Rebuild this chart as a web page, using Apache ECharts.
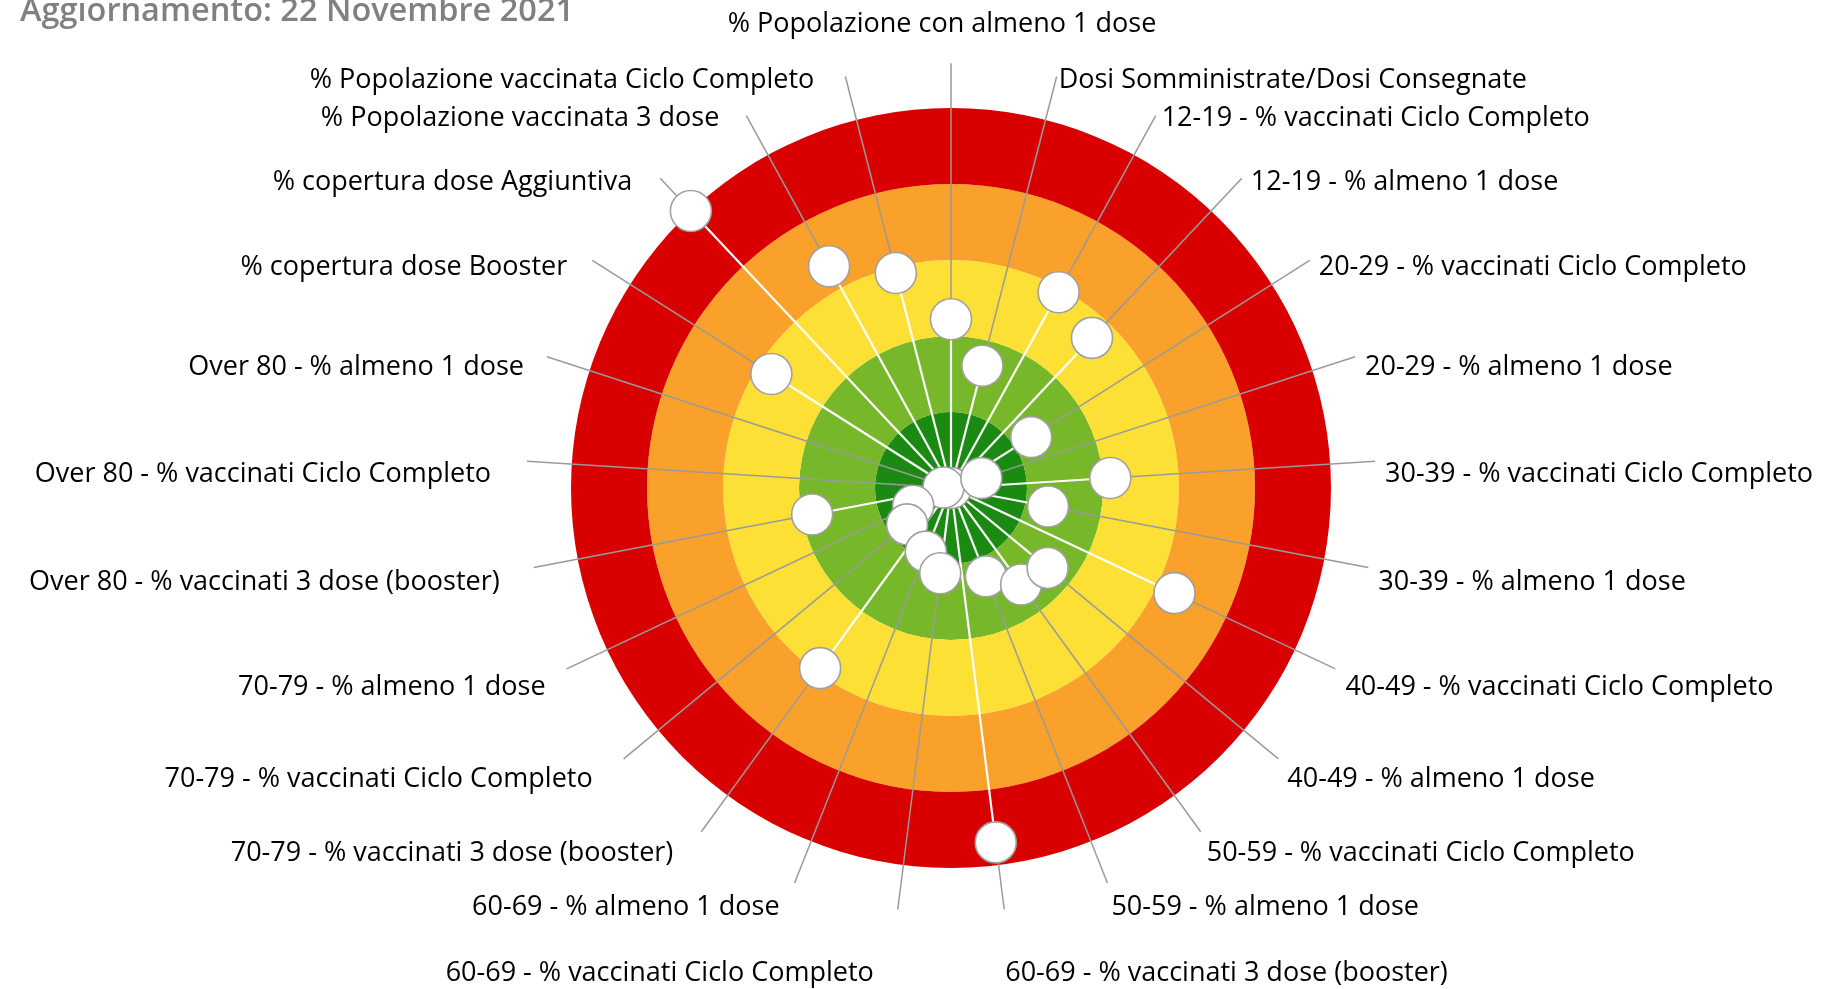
<!DOCTYPE html>
<html>
<head>
<meta charset="utf-8">
<script src="https://cdn.jsdelivr.net/npm/echarts/dist/echarts.min.js"></script>
<style>
  html, body { margin: 0; padding: 0; background: #ffffff; }
  #chart { width: 1825px; height: 989px; }
</style>
</head>
<body>
<div id="chart"></div>
<script>
// Indicatori, in senso orario a partire dall'alto
const indicatori = [
  '% Popolazione con almeno 1 dose',
  'Dosi Somministrate/Dosi Consegnate',
  '12-19 - % vaccinati Ciclo Completo',
  '12-19 - % almeno 1 dose',
  '20-29 - % vaccinati Ciclo Completo',
  '20-29 - % almeno 1 dose',
  '30-39 - % vaccinati Ciclo Completo',
  '30-39 - % almeno 1 dose',
  '40-49 - % vaccinati Ciclo Completo',
  '40-49 - % almeno 1 dose',
  '50-59 - % vaccinati Ciclo Completo',
  '50-59 - % almeno 1 dose',
  '60-69 - % vaccinati 3 dose (booster)',
  '60-69 - % vaccinati Ciclo Completo',
  '60-69 - % almeno 1 dose',
  '70-79 - % vaccinati 3 dose (booster)',
  '70-79 - % vaccinati Ciclo Completo',
  '70-79 - % almeno 1 dose',
  'Over 80 - % vaccinati 3 dose (booster)',
  'Over 80 - % vaccinati Ciclo Completo',
  'Over 80 - % almeno 1 dose',
  '% copertura dose Booster',
  '% copertura dose Aggiuntiva',
  '% Popolazione vaccinata 3 dose',
  '% Popolazione vaccinata Ciclo Completo'
];

// Punteggio di ciascun indicatore (0 = centro, 5 = bordo esterno)
const punteggi = [
  2.22, 1.66, 2.94, 2.71, 1.25, 0.42, 2.10, 1.30, 3.25, 1.65,
  1.57, 1.25, 4.70, 1.13, 0.90, 2.93, 0.75, 0.55, 1.86, 0.10,
  0.00, 2.80, 5.00, 3.33, 2.92
];

// Fasce concentriche, dall'interno verso l'esterno
const fasce = [0, 1, 2, 3, 4, 5];
const fasceColori = ['#1b8a12', '#76b82a', '#fde036', '#f9a12b', '#d80000'];

const titolo = 'Aggiornamento: 22 Novembre 2021';

// Raggio (in unità di punteggio) a cui terminano le linee guida
const raggioGuida = 5.59;

// Spostamento [dx, dy] in px di ogni etichetta rispetto alla fine della sua linea guida
const spostamentoEtichette = [
  [-9, -39], [2, 4], [6, 3], [9, 4], [9, 7], [10, 11], [10, 13], [10, 15], [10, 18], [9, 21],
  [6, 22], [4, 24], [1, 64],
  [-24, 64], [-15, 24], [-28, 22], [-31, 21], [-21, 18], [-34, 15], [-36, 13], [-23, 11],
  [-25, 7], [-28, 4], [-27, 3], [-31, 4]
];

const FONT = '"Open Sans", "Noto Sans", sans-serif';

const chart = echarts.init(document.getElementById('chart'), null, { renderer: 'canvas' });

chart.setOption({
  animation: false,
  backgroundColor: '#ffffff',
  title: {
    text: titolo,
    left: 15,
    top: -10,
    textStyle: { color: '#808080', fontSize: 32.5, fontWeight: 600, fontFamily: FONT }
  },
  polar: { center: [951, 488], radius: 380 },
  angleAxis: {
    type: 'category',
    data: indicatori,
    boundaryGap: false,
    startAngle: 90,
    clockwise: true,
    axisLine: { show: false },
    axisTick: { show: false },
    axisLabel: { show: false },
    splitLine: { show: false }
  },
  radiusAxis: {
    type: 'value',
    min: fasce[0],
    max: fasce[fasce.length - 1],
    interval: 1,
    axisLine: { show: false },
    axisTick: { show: false },
    axisLabel: { show: false },
    splitLine: { show: false },
    splitArea: { show: true, areaStyle: { color: fasceColori, opacity: 1 } }
  },
  series: [{
    type: 'custom',
    coordinateSystem: 'polar',
    silent: true,
    encode: { radius: 0, angle: 1 },
    data: punteggi.map((v, i) => [v, i]),
    renderItem: function (params, api) {
      const i = params.dataIndex;
      const v = api.value(0);
      const centro = api.coord([0, i]);
      const punto = api.coord([v, i]);
      const guida = api.coord([raggioGuida, i]);
      const off = spostamentoEtichette[i];
      const destra = guida[0] > centro[0] + 1;
      const sinistra = guida[0] < centro[0] - 1;
      return {
        type: 'group',
        children: [
          {
            type: 'line', z2: 1,
            shape: { x1: punto[0], y1: punto[1], x2: guida[0], y2: guida[1] },
            style: { stroke: '#9a9a9a', lineWidth: 1.5 }
          },
          {
            type: 'line', z2: 2,
            shape: { x1: centro[0], y1: centro[1], x2: punto[0], y2: punto[1] },
            style: { stroke: '#ffffff', lineWidth: 2.2 }
          },
          {
            type: 'circle', z2: 200 - i,
            shape: { cx: punto[0], cy: punto[1], r: 20.5 },
            style: { fill: '#ffffff', stroke: '#a0a0a0', lineWidth: 1.6 }
          },
          {
            type: 'text', z2: 300,
            style: {
              text: indicatori[i],
              x: guida[0] + off[0],
              y: guida[1] + off[1],
              align: destra ? 'left' : (sinistra ? 'right' : 'center'),
              verticalAlign: 'middle',
              fill: '#000000',
              fontSize: 27,
              fontFamily: FONT
            }
          }
        ]
      };
    }
  }]
});
</script>
</body>
</html>
